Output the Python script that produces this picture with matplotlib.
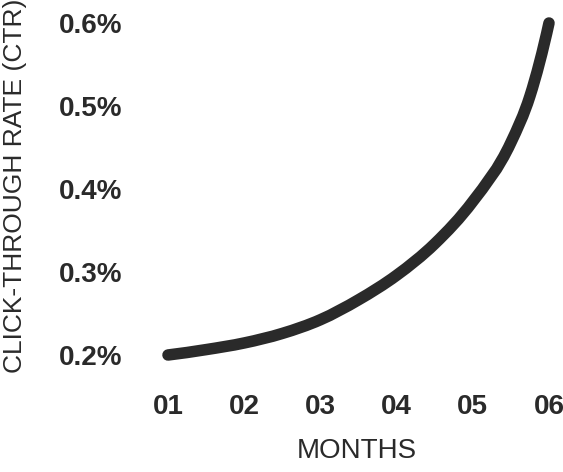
import matplotlib
matplotlib.use("Agg")
import matplotlib.pyplot as plt
from matplotlib.path import Path
from matplotlib.patches import PathPatch

# values (month, CTR in %)
months = [1.0, 1.5, 2.0, 2.5, 3.0, 3.5, 4.0, 4.5, 5.0, 5.5, 5.75, 6.0]
ctr = [0.200, 0.2065, 0.2145, 0.226, 0.2425, 0.2665, 0.296, 0.334, 0.385, 0.456, 0.512, 0.600]

month_ticks = [1, 2, 3, 4, 5, 6]
month_labels = ["01", "02", "03", "04", "05", "06"]
ctr_ticks = [0.2, 0.3, 0.4, 0.5, 0.6]
ctr_labels = ["0.2%", "0.3%", "0.4%", "0.5%", "0.6%"]

INK = "#2a2a2a"
plt.rcParams["font.family"] = ["Liberation Sans", "DejaVu Sans"]

W, H = 563, 472
fig = plt.figure(figsize=(W / 100, H / 100), dpi=100)
ax = fig.add_axes([168 / W, 1 - 355 / H, (549 - 168) / W, (355 - 23) / H])

# smooth line through the points (cubic Bezier segments, like a d3 curve)
n = len(months)
gaps = [months[i + 1] - months[i] for i in range(n - 1)]
slopes = [(ctr[i + 1] - ctr[i]) / gaps[i] for i in range(n - 1)]
tang = [0.0] * n
for i in range(1, n - 1):
    h0, h1 = gaps[i - 1], gaps[i]
    tang[i] = (h1 * slopes[i - 1] + h0 * slopes[i]) / (h0 + h1)
tang[0] = 2 * slopes[0] - tang[1]
tang[-1] = 2 * slopes[-1] - tang[-2]
verts = [(months[0], ctr[0])]
codes = [Path.MOVETO]
for i in range(n - 1):
    h = gaps[i] / 3
    verts += [(months[i] + h, ctr[i] + h * tang[i]),
              (months[i + 1] - h, ctr[i + 1] - h * tang[i + 1]),
              (months[i + 1], ctr[i + 1])]
    codes += [Path.CURVE4] * 3
curve = PathPatch(Path(verts, codes), fill=False, edgecolor=INK, lw=8.3,
                  capstyle="round", joinstyle="round", clip_on=False)
ax.add_patch(curve)

ax.set_xlim(1, 6)
ax.set_ylim(0.2, 0.6)
ax.set_xticks(month_ticks)
ax.set_xticklabels(month_labels)
ax.set_yticks(ctr_ticks)
ax.set_yticklabels(ctr_labels)
ax.tick_params(axis="both", length=0, colors=INK, labelsize=20)
ax.tick_params(axis="x", pad=28)
ax.tick_params(axis="y", pad=33)
for lbl in ax.get_xticklabels() + ax.get_yticklabels():
    lbl.set_fontweight("bold")
for s in ax.spines.values():
    s.set_visible(False)

fig.text(15 / W, 1 - 186 / H, "CLICK-THROUGH RATE (CTR)", rotation=90,
         ha="center", va="center", fontsize=19, color=INK)
fig.text(357 / W, 1 - 451 / H, "MONTHS", ha="center", va="center",
         fontsize=20, color=INK)

fig.savefig("out.png", dpi=100)
